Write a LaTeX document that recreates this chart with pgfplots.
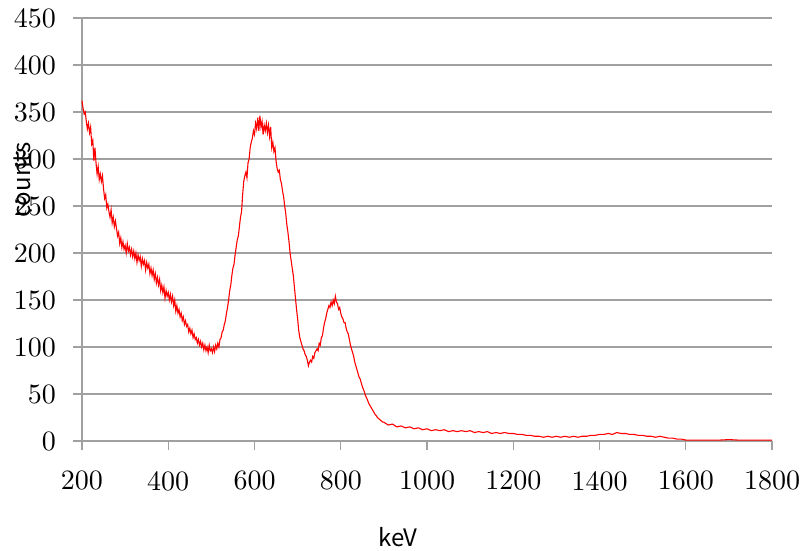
\documentclass[border=0pt]{standalone}
\usepackage{fontspec}
\setmainfont{lmroman10-regular.otf}
\newfontfamily\gothic{Noto Sans CJK JP}
\usepackage{pgfplots}
\pgfplotsset{compat=1.18}
\definecolor{gridgray}{RGB}{160,160,160}
\begin{document}
\begin{tikzpicture}
\path[use as bounding box] (-82pt,-110pt) rectangle (724pt,441pt);
\begin{axis}[
  scale only axis,
  width=690pt, height=423pt,
  xmin=200, xmax=1800, ymin=0, ymax=450,
  xtick={200,400,...,1800}, ytick={0,50,...,450},
  axis x line*=bottom, axis y line*=left,
  axis line style={gridgray, line width=1.3pt},
  ymajorgrids, major grid style={gridgray, line width=1.3pt},
  tick style={gridgray, line width=1.3pt},
  tick align=outside, major tick length=9pt,
  xtick pos=left, ytick pos=left,
  /pgf/number format/assume math mode=true,
  /pgf/number format/1000 sep={},
  tick label style={font=\fontsize{28}{32}\selectfont, inner sep=0pt},
  yticklabel style={anchor=east, xshift=-17pt},
  xticklabel style={anchor=north, yshift=-21pt},
  xlabel={\gothic\fontsize{24}{28}\selectfont keV},
  ylabel={\gothic\fontsize{24}{28}\selectfont counts},
  every axis x label/.style={at={(axis description cs:0.458,-0.227)}, anchor=center},
  every axis y label/.style={at={(axis description cs:-0.087,0.617)}, anchor=center, rotate=90},
  clip=false,
]
\addplot[red, line width=1.1pt] coordinates {
(200,362)(202.5,354)(205,348)(207.5,350)(210,340)(212.5,332)(215,338)(217.5,328)(220,334)(222.5,316)
(225,320)(227.5,298)(230,312)(232.5,296)(235,284)(237.5,292)(240,278)(242.5,284)(245,276)(247.5,282)
(250,268)(252.5,258)(255,262)(257.5,248)(260,252)(262.5,244)(265,238)(267.5,246)(270,232)(272.5,238)
(275,228)(277.5,234)(280,226)(282.5,218)(285,222)(287.5,210)(290,216)(292.5,206)(295,212)(297.5,204)
(300,208)(302.5,200)(305,210)(307.5,202)(310,206)(312.5,198)(315,204)(317.5,196)(320,202)(322.5,194)
(325,200)(327.5,190)(330,198)(332.5,192)(335,196)(337.5,186)(340,194)(342.5,188)(345,192)(347.5,182)
(350,190)(352.5,184)(355,188)(357.5,178)(360,184)(362.5,176)(365,182)(367.5,172)(370,178)(372.5,168)
(375,174)(377.5,166)(380,172)(382.5,160)(385,166)(387.5,158)(390,164)(392.5,152)(395,160)(397.5,154)
(400,158)(402.5,150)(405,156)(407.5,148)(410,154)(412.5,144)(415,150)(417.5,138)(420,144)(422.5,136)
(425,140)(427.5,132)(430,136)(432.5,128)(435,132)(437.5,124)(440,128)(442.5,122)(445,124)(447.5,116)
(450,120)(452.5,114)(455,118)(457.5,110)(460,114)(462.5,108)(465,110)(467.5,104)(470,108)(472.5,102)
(475,106)(477.5,100)(480,104)(482.5,97)(485,102)(487.5,96)(490,100)(492.5,94)(495,102)(497.5,96)
(500,98)(502.5,94)(505,100)(507.5,95)(510,102)(512.5,98)(515,104)(517.5,100)(520,108)(522.5,110)
(525,116)(527.5,118)(530,124)(532.5,128)(535,136)(537.5,142)(540,150)(542.5,160)(545,166)(547.5,176)
(550,184)(552.5,188)(555,198)(557.5,206)(560,214)(562.5,218)(565,228)(567.5,238)(570,244)(572.5,262)
(575,276)(577.5,282)(580,286)(582.5,280)(585,296)(587.5,300)(590,312)(592.5,318)(595,322)(597.5,330)
(600,326)(602.5,338)(605,332)(607.5,344)(610,330)(612.5,346)(615,334)(617.5,340)(620,326)(622.5,336)
(625,330)(627.5,338)(630,328)(632.5,336)(635,324)(637.5,334)(640,312)(642.5,318)(645,308)(647.5,312)
(650,298)(652.5,290)(655,286)(657.5,288)(660,278)(662.5,274)(665,266)(667.5,260)(670,250)(672.5,242)
(675,230)(677.5,222)(680,212)(682.5,200)(685,192)(687.5,184)(690,176)(692.5,164)(695,152)(697.5,140)
(700,130)(702.5,118)(705,110)(707.5,106)(710,102)(712.5,98)(715,96)(717.5,92)(720,90)(722.5,86)
(725,80)(727.5,84)(730,86)(732.5,84)(735,90)(737.5,88)(740,94)(742.5,96)(745,98)(747.5,96)
(750,104)(752.5,102)(755,110)(757.5,112)(760,120)(762.5,126)(765,130)(767.5,136)(770,140)(772.5,144)
(775,142)(777.5,148)(780,144)(782.5,150)(785,146)(787.5,154)(790,148)(792.5,146)(795,140)(797.5,142)
(800,136)(802.5,132)(805,130)(807.5,126)(810,126)(812.5,120)(815,116)(817.5,114)(820,108)(822.5,102)
(825,98)(827.5,94)(830,90)(832.5,84)(835,80)(837.5,76)(840,72)(842.5,68)(845,66)(847.5,62)
(850,58)(852.5,55)(855,52)(857.5,48)(860,46)(862.5,43)(865,40)(867.5,38)(870,36)(872.5,34)
(875,32)(877.5,30)(880,28)(882.5,27)(885,25)(887.5,24)(890,23)(892.5,22)(895,21)(897.5,20)
(900,20)(910,17)(920,18)(930,15)(940,16)(950,14)(960,15)(970,13)(980,14)(990,12)
(1000,13)(1010,11)(1020,12)(1030,11)(1040,12)(1050,10)(1060,11)(1070,10)(1080,11)(1090,10)
(1100,11)(1110,9)(1120,10)(1130,9)(1140,10)(1150,8)(1160,9)(1170,8)(1180,9)(1190,8)
(1200,8)(1210,7)(1220,7)(1230,6)(1240,6)(1250,5)(1260,5)(1270,4)(1280,5)(1290,4)
(1300,5)(1310,4)(1320,5)(1330,4)(1340,5)(1350,4)(1360,5)(1370,5)(1380,6)(1390,6)
(1400,7)(1410,7)(1420,8)(1430,7)(1440,9)(1450,8)(1460,8)(1470,7)(1480,7)(1490,6)
(1500,6)(1510,5)(1520,5)(1530,4)(1540,5)(1550,4)(1560,3)(1570,3)(1580,2)(1590,2)
(1600,1)(1620,1)(1640,1)(1660,1)(1680,1)(1700,1.5)(1720,1)(1740,1)(1760,1)(1780,1)(1800,1)
};
\end{axis}
\end{tikzpicture}
\end{document}
